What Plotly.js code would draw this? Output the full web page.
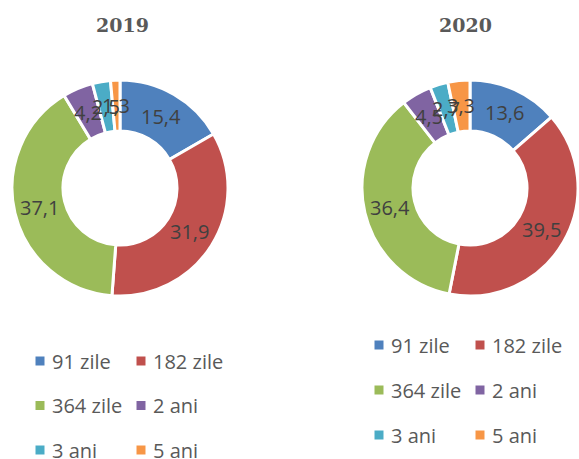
<!DOCTYPE html>
<html><head><meta charset="utf-8">
<script src="https://cdn.plot.ly/plotly-3.0.1.min.js"></script>
<style>html,body{margin:0;padding:0;background:#fff}</style>
</head><body><div id="chart" style="width:579px;height:459px"></div>
<script>
// ---- data ----
const categories = ['91 zile', '182 zile', '364 zile', '2 ani', '3 ani', '5 ani'];
const years = ['2019', '2020'];
const values2019 = [15.4, 31.9, 37.1, 4.2, 2.5, 1.3];
const values2020 = [13.6, 39.5, 36.4, 4.5, 2.7, 3.3];
const colors = ['#4F81BD', '#C0504D', '#9BBB59', '#8064A2', '#4BACC6', '#F79646'];

// ---- layout helpers ----
const W = 579, H = 459;
const HOLE = 0.528;
const px = v => v / W, py = v => 1 - v / H;
const domains = [
  {x: [px(12), px(228)], y: [py(296), py(80)]},
  {x: [px(362), px(578)], y: [py(296), py(80)]}
];
const titlePos = [{x: 122.5, y: 25}, {x: 465, y: 25}];
const legendPos = [{x: 40, y: 361, dy: 44.5}, {x: 379, y: 345, dy: 45}];
const COLW = 101;
const series = [values2019, values2020];

const fmt = v => v.toFixed(1).replace('.', ',');

const data = series.map((vals, i) => ({
  type: 'pie',
  name: years[i],
  labels: categories,
  values: vals,
  hole: HOLE,
  sort: false,
  direction: 'clockwise',
  rotation: 0,
  textinfo: 'none',
  hoverinfo: 'label+value',
  showlegend: false,
  domain: domains[i],
  marker: {colors: colors, line: {color: '#ffffff', width: 3}}
}));

const annotations = [];
const shapes = [];

series.forEach((vals, i) => {
  const d = domains[i];
  const cx = (d.x[0] + d.x[1]) / 2 * W;
  const cy = (1 - (d.y[0] + d.y[1]) / 2) * H;
  const R = Math.min((d.x[1] - d.x[0]) * W, (d.y[1] - d.y[0]) * H) / 2;
  const rLab = R * (1 + HOLE) / 2;
  const total = vals.reduce((a, b) => a + b, 0);
  let cum = 0;
  vals.forEach((v, k) => {
    const mid = (cum + v / 2) / total * 2 * Math.PI;
    cum += v;
    annotations.push({
      xref: 'paper', yref: 'paper',
      x: px(cx + rLab * Math.sin(mid)), y: py(cy - rLab * Math.cos(mid)),
      xanchor: 'center', yanchor: 'middle',
      text: fmt(v), showarrow: false,
      font: {family: 'Open Sans, sans-serif', size: 20, color: '#404040'}
    });
  });
  // title
  annotations.push({
    xref: 'paper', yref: 'paper',
    x: px(titlePos[i].x), y: py(titlePos[i].y),
    xanchor: 'center', yanchor: 'middle',
    text: '<b>' + years[i] + '</b>', showarrow: false,
    font: {family: 'DejaVu Serif, serif', size: 19, color: '#595959'}
  });
  // legend
  const L = legendPos[i];
  categories.forEach((c, k) => {
    const mx = L.x + (k % 2) * COLW;
    const my = L.y + Math.floor(k / 2) * L.dy;
    shapes.push({
      type: 'rect', xref: 'paper', yref: 'paper',
      x0: px(mx - 4.5), x1: px(mx + 4.5), y0: py(my + 4.5), y1: py(my - 4.5),
      fillcolor: colors[k], line: {width: 0}
    });
    annotations.push({
      xref: 'paper', yref: 'paper',
      x: px(mx + 10), y: py(my),
      xanchor: 'left', yanchor: 'middle',
      text: c, showarrow: false,
      font: {family: 'Open Sans, sans-serif', size: 20, color: '#595959'}
    });
  });
});

const layout = {
  width: W, height: H,
  margin: {l: 0, r: 0, t: 0, b: 0},
  paper_bgcolor: '#ffffff',
  showlegend: false,
  annotations: annotations,
  shapes: shapes
};

Plotly.newPlot('chart', data, layout, {displayModeBar: false, staticPlot: true});
</script>
</body></html>
